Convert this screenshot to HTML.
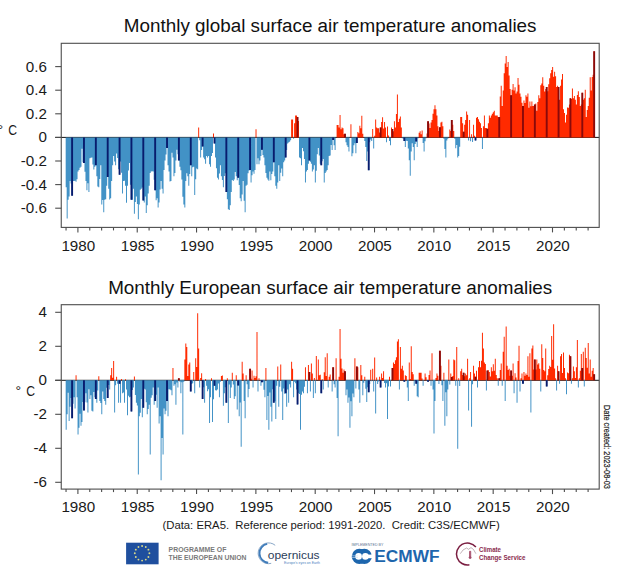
<!DOCTYPE html>
<html><head><meta charset="utf-8"><style>
html,body{margin:0;padding:0;background:#fff;}
body{width:640px;height:575px;overflow:hidden;position:relative;}
svg{position:absolute;left:0;top:0;}
text{font-family:"Liberation Sans", sans-serif;}
</style></head><body>
<svg width="640" height="575" viewBox="0 0 640 575">
<line x1="55.2" y1="137.4" x2="599.2" y2="137.4" stroke="#111" stroke-width="1"/>
<path fill="#4292c6" d="M65.68 137.40h0.9888v49.82h-0.9888zM66.67 137.40h0.9888v81.12h-0.9888zM67.66 137.40h0.9888v62.34h-0.9888zM68.65 137.40h0.9888v59.21h-0.9888zM69.64 137.40h0.9888v43.56h-0.9888zM70.62 137.40h0.9888v46.10h-0.9888zM71.61 137.40h0.9888v58.43h-0.9888zM72.60 137.40h0.9888v43.64h-0.9888zM73.59 137.40h0.9888v43.56h-0.9888zM74.58 137.40h0.9888v43.47h-0.9888zM75.57 137.40h0.9888v44.34h-0.9888zM76.56 137.40h0.9888v41.90h-0.9888zM77.55 137.40h0.9888v34.17h-0.9888zM78.53 137.40h0.9888v32.60h-0.9888zM79.52 137.40h0.9888v30.29h-0.9888zM80.51 137.40h0.9888v29.47h-0.9888zM81.50 137.40h0.9888v11.47h-0.9888zM82.49 137.40h0.9888v24.78h-0.9888zM83.48 137.40h0.9888v25.56h-0.9888zM84.47 137.40h0.9888v34.41h-0.9888zM85.46 137.40h0.9888v43.56h-0.9888zM86.44 137.40h0.9888v52.95h-0.9888zM87.43 137.40h0.9888v45.88h-0.9888zM88.42 137.40h0.9888v54.52h-0.9888zM89.41 137.40h0.9888v20.86h-0.9888zM90.40 137.40h0.9888v20.40h-0.9888zM91.39 137.40h0.9888v20.08h-0.9888zM92.38 137.40h0.9888v27.12h-0.9888zM93.37 137.40h0.9888v32.05h-0.9888zM94.35 137.40h0.9888v29.47h-0.9888zM95.34 137.40h0.9888v27.91h-0.9888zM96.33 137.40h0.9888v38.86h-0.9888zM97.32 137.40h0.9888v49.01h-0.9888zM98.31 137.40h0.9888v49.82h-0.9888zM99.30 137.40h0.9888v41.54h-0.9888zM100.29 137.40h0.9888v27.91h-0.9888zM101.28 137.40h0.9888v67.04h-0.9888zM102.26 137.40h0.9888v62.62h-0.9888zM103.25 137.40h0.9888v74.86h-0.9888zM104.24 137.40h0.9888v62.34h-0.9888zM105.23 137.40h0.9888v61.83h-0.9888zM106.22 137.40h0.9888v48.25h-0.9888zM107.21 137.40h0.9888v39.65h-0.9888zM108.20 137.40h0.9888v51.39h-0.9888zM109.19 137.40h0.9888v62.09h-0.9888zM110.17 137.40h0.9888v60.78h-0.9888zM111.16 137.40h0.9888v43.56h-0.9888zM112.15 137.40h0.9888v27.92h-0.9888zM113.14 137.40h0.9888v18.52h-0.9888zM114.13 137.40h0.9888v24.13h-0.9888zM115.12 137.40h0.9888v27.91h-0.9888zM116.11 137.40h0.9888v16.17h-0.9888zM117.09 137.40h0.9888v20.54h-0.9888zM118.08 137.40h0.9888v31.82h-0.9888zM119.07 137.40h0.9888v37.30h-0.9888zM120.06 137.40h0.9888v23.99h-0.9888zM121.05 137.40h0.9888v35.43h-0.9888zM122.04 137.40h0.9888v56.08h-0.9888zM123.03 137.40h0.9888v43.56h-0.9888zM124.02 137.40h0.9888v43.38h-0.9888zM125.01 137.40h0.9888v48.25h-0.9888zM125.99 137.40h0.9888v65.47h-0.9888zM126.98 137.40h0.9888v48.25h-0.9888zM127.97 137.40h0.9888v33.12h-0.9888zM128.96 137.40h0.9888v25.56h-0.9888zM129.95 137.40h0.9888v47.37h-0.9888zM130.94 137.40h0.9888v62.34h-0.9888zM131.93 137.40h0.9888v62.29h-0.9888zM132.92 137.40h0.9888v51.39h-0.9888zM133.90 137.40h0.9888v76.43h-0.9888zM134.89 137.40h0.9888v64.66h-0.9888zM135.88 137.40h0.9888v59.21h-0.9888zM136.87 137.40h0.9888v66.72h-0.9888zM137.86 137.40h0.9888v81.91h-0.9888zM138.85 137.40h0.9888v67.04h-0.9888zM139.84 137.40h0.9888v52.31h-0.9888zM140.82 137.40h0.9888v51.39h-0.9888zM141.81 137.40h0.9888v50.11h-0.9888zM142.80 137.40h0.9888v63.12h-0.9888zM143.79 137.40h0.9888v65.07h-0.9888zM144.78 137.40h0.9888v59.21h-0.9888zM145.77 137.40h0.9888v75.65h-0.9888zM146.76 137.40h0.9888v67.83h-0.9888zM147.75 137.40h0.9888v56.08h-0.9888zM148.74 137.40h0.9888v48.25h-0.9888zM149.72 137.40h0.9888v35.72h-0.9888zM150.71 137.40h0.9888v34.17h-0.9888zM151.70 137.40h0.9888v33.96h-0.9888zM152.69 137.40h0.9888v34.17h-0.9888zM153.68 137.40h0.9888v42.27h-0.9888zM154.67 137.40h0.9888v52.95h-0.9888zM155.66 137.40h0.9888v62.80h-0.9888zM156.65 137.40h0.9888v60.78h-0.9888zM157.63 137.40h0.9888v70.17h-0.9888zM158.62 137.40h0.9888v65.17h-0.9888zM159.61 137.40h0.9888v52.17h-0.9888zM160.60 137.40h0.9888v43.56h-0.9888zM161.59 137.40h0.9888v51.35h-0.9888zM162.58 137.40h0.9888v56.08h-0.9888zM163.57 137.40h0.9888v32.60h-0.9888zM164.56 137.40h0.9888v23.21h-0.9888zM165.54 137.40h0.9888v17.22h-0.9888zM166.53 137.40h0.9888v10.69h-0.9888zM167.52 137.40h0.9888v27.91h-0.9888zM168.51 137.40h0.9888v34.17h-0.9888zM169.50 137.40h0.9888v44.10h-0.9888zM170.49 137.40h0.9888v43.56h-0.9888zM171.48 137.40h0.9888v15.39h-0.9888zM172.47 137.40h0.9888v20.08h-0.9888zM173.45 137.40h0.9888v38.86h-0.9888zM174.44 137.40h0.9888v35.57h-0.9888zM175.43 137.40h0.9888v23.21h-0.9888zM176.42 137.40h0.9888v12.26h-0.9888zM177.41 137.40h0.9888v16.87h-0.9888zM178.40 137.40h0.9888v23.21h-0.9888zM179.39 137.40h0.9888v29.47h-0.9888zM180.38 137.40h0.9888v32.94h-0.9888zM181.36 137.40h0.9888v41.99h-0.9888zM182.35 137.40h0.9888v59.36h-0.9888zM183.34 137.40h0.9888v67.04h-0.9888zM184.33 137.40h0.9888v70.17h-0.9888zM185.32 137.40h0.9888v43.56h-0.9888zM186.31 137.40h0.9888v35.82h-0.9888zM187.30 137.40h0.9888v38.86h-0.9888zM188.29 137.40h0.9888v48.25h-0.9888zM189.27 137.40h0.9888v36.53h-0.9888zM190.26 137.40h0.9888v27.91h-0.9888zM191.25 137.40h0.9888v38.86h-0.9888zM192.24 137.40h0.9888v29.76h-0.9888zM193.23 137.40h0.9888v29.47h-0.9888zM194.22 137.40h0.9888v57.65h-0.9888zM195.21 137.40h0.9888v41.94h-0.9888zM196.20 137.40h0.9888v31.04h-0.9888zM197.18 137.40h0.9888v31.82h-0.9888zM199.16 137.40h0.9888v2.86h-0.9888zM200.15 137.40h0.9888v20.08h-0.9888zM201.14 137.40h0.9888v12.72h-0.9888zM202.13 137.40h0.9888v9.13h-0.9888zM203.12 137.40h0.9888v20.08h-0.9888zM204.11 137.40h0.9888v21.75h-0.9888zM205.09 137.40h0.9888v26.34h-0.9888zM206.08 137.40h0.9888v18.52h-0.9888zM207.07 137.40h0.9888v20.13h-0.9888zM208.06 137.40h0.9888v18.52h-0.9888zM209.05 137.40h0.9888v26.91h-0.9888zM210.04 137.40h0.9888v29.47h-0.9888zM211.03 137.40h0.9888v18.52h-0.9888zM212.02 137.40h0.9888v15.60h-0.9888zM213.99 137.40h0.9888v5.99h-0.9888zM214.98 137.40h0.9888v20.08h-0.9888zM215.97 137.40h0.9888v30.82h-0.9888zM216.96 137.40h0.9888v40.43h-0.9888zM217.95 137.40h0.9888v41.99h-0.9888zM218.94 137.40h0.9888v36.17h-0.9888zM219.93 137.40h0.9888v27.91h-0.9888zM220.91 137.40h0.9888v38.86h-0.9888zM221.90 137.40h0.9888v42.50h-0.9888zM222.89 137.40h0.9888v49.82h-0.9888zM223.88 137.40h0.9888v38.53h-0.9888zM224.87 137.40h0.9888v35.73h-0.9888zM225.86 137.40h0.9888v54.52h-0.9888zM226.85 137.40h0.9888v61.92h-0.9888zM227.84 137.40h0.9888v71.73h-0.9888zM228.82 137.40h0.9888v72.52h-0.9888zM229.81 137.40h0.9888v67.95h-0.9888zM230.80 137.40h0.9888v54.52h-0.9888zM231.79 137.40h0.9888v42.61h-0.9888zM232.78 137.40h0.9888v43.56h-0.9888zM233.77 137.40h0.9888v41.99h-0.9888zM234.76 137.40h0.9888v34.62h-0.9888zM235.75 137.40h0.9888v38.86h-0.9888zM236.73 137.40h0.9888v42.86h-0.9888zM237.72 137.40h0.9888v40.43h-0.9888zM238.71 137.40h0.9888v47.57h-0.9888zM239.70 137.40h0.9888v60.78h-0.9888zM240.69 137.40h0.9888v63.91h-0.9888zM241.68 137.40h0.9888v56.98h-0.9888zM242.67 137.40h0.9888v43.56h-0.9888zM243.66 137.40h0.9888v63.38h-0.9888zM244.64 137.40h0.9888v74.86h-0.9888zM245.63 137.40h0.9888v48.25h-0.9888zM246.62 137.40h0.9888v47.45h-0.9888zM247.61 137.40h0.9888v35.73h-0.9888zM248.60 137.40h0.9888v33.15h-0.9888zM249.59 137.40h0.9888v32.60h-0.9888zM250.58 137.40h0.9888v45.12h-0.9888zM251.56 137.40h0.9888v37.96h-0.9888zM252.55 137.40h0.9888v34.17h-0.9888zM253.54 137.40h0.9888v36.46h-0.9888zM254.53 137.40h0.9888v32.60h-0.9888zM256.51 137.40h0.9888v26.74h-0.9888zM257.50 137.40h0.9888v20.86h-0.9888zM258.49 137.40h0.9888v26.73h-0.9888zM259.48 137.40h0.9888v23.21h-0.9888zM260.46 137.40h0.9888v18.55h-0.9888zM261.45 137.40h0.9888v12.26h-0.9888zM262.44 137.40h0.9888v17.68h-0.9888zM263.43 137.40h0.9888v20.08h-0.9888zM264.42 137.40h0.9888v27.91h-0.9888zM265.41 137.40h0.9888v35.63h-0.9888zM266.40 137.40h0.9888v40.43h-0.9888zM267.38 137.40h0.9888v41.99h-0.9888zM268.37 137.40h0.9888v43.31h-0.9888zM269.36 137.40h0.9888v34.17h-0.9888zM270.35 137.40h0.9888v42.78h-0.9888zM271.34 137.40h0.9888v36.56h-0.9888zM272.33 137.40h0.9888v34.17h-0.9888zM273.32 137.40h0.9888v24.78h-0.9888zM274.31 137.40h0.9888v38.86h-0.9888zM275.30 137.40h0.9888v48.35h-0.9888zM276.28 137.40h0.9888v51.39h-0.9888zM277.27 137.40h0.9888v45.00h-0.9888zM278.26 137.40h0.9888v27.91h-0.9888zM279.25 137.40h0.9888v43.56h-0.9888zM280.24 137.40h0.9888v35.45h-0.9888zM281.23 137.40h0.9888v31.04h-0.9888zM282.22 137.40h0.9888v38.86h-0.9888zM283.21 137.40h0.9888v24.78h-0.9888zM284.19 137.40h0.9888v23.18h-0.9888zM285.18 137.40h0.9888v20.08h-0.9888zM286.17 137.40h0.9888v12.51h-0.9888zM287.16 137.40h0.9888v5.99h-0.9888zM288.15 137.40h0.9888v5.15h-0.9888zM289.14 137.40h0.9888v4.43h-0.9888zM290.13 137.40h0.9888v2.86h-0.9888zM293.09 137.40h0.9888v1.30h-0.9888zM299.02 137.40h0.9888v20.08h-0.9888zM300.01 137.40h0.9888v20.94h-0.9888zM301.00 137.40h0.9888v27.91h-0.9888zM301.99 137.40h0.9888v10.69h-0.9888zM302.98 137.40h0.9888v13.84h-0.9888zM303.97 137.40h0.9888v21.65h-0.9888zM304.96 137.40h0.9888v45.12h-0.9888zM305.95 137.40h0.9888v34.17h-0.9888zM306.94 137.40h0.9888v32.61h-0.9888zM307.92 137.40h0.9888v26.34h-0.9888zM308.91 137.40h0.9888v23.21h-0.9888zM309.90 137.40h0.9888v24.43h-0.9888zM310.89 137.40h0.9888v26.34h-0.9888zM311.88 137.40h0.9888v34.17h-0.9888zM312.87 137.40h0.9888v32.18h-0.9888zM313.86 137.40h0.9888v27.91h-0.9888zM314.85 137.40h0.9888v45.12h-0.9888zM315.83 137.40h0.9888v33.27h-0.9888zM316.82 137.40h0.9888v16.95h-0.9888zM317.81 137.40h0.9888v10.69h-0.9888zM318.80 137.40h0.9888v18.06h-0.9888zM319.79 137.40h0.9888v26.34h-0.9888zM320.78 137.40h0.9888v27.91h-0.9888zM321.77 137.40h0.9888v23.79h-0.9888zM322.75 137.40h0.9888v21.65h-0.9888zM323.74 137.40h0.9888v45.12h-0.9888zM324.73 137.40h0.9888v35.71h-0.9888zM325.72 137.40h0.9888v34.17h-0.9888zM326.71 137.40h0.9888v32.60h-0.9888zM327.70 137.40h0.9888v27.81h-0.9888zM328.69 137.40h0.9888v18.52h-0.9888zM329.68 137.40h0.9888v18.12h-0.9888zM330.67 137.40h0.9888v7.70h-0.9888zM331.65 137.40h0.9888v12.66h-0.9888zM332.64 137.40h0.9888v2.50h-0.9888zM333.63 137.40h0.9888v7.97h-0.9888zM334.62 137.40h0.9888v12.66h-0.9888zM335.61 137.40h0.9888v0.08h-0.9888zM345.50 137.40h0.9888v4.84h-0.9888zM346.49 137.40h0.9888v7.97h-0.9888zM347.47 137.40h0.9888v9.53h-0.9888zM348.46 137.40h0.9888v14.22h-0.9888zM349.45 137.40h0.9888v0.27h-0.9888zM351.43 137.40h0.9888v18.91h-0.9888zM352.42 137.40h0.9888v15.78h-0.9888zM353.41 137.40h0.9888v7.97h-0.9888zM354.40 137.40h0.9888v5.94h-0.9888zM355.38 137.40h0.9888v15.78h-0.9888zM356.37 137.40h0.9888v5.62h-0.9888zM364.28 137.40h0.9888v3.59h-0.9888zM365.27 137.40h0.9888v9.53h-0.9888zM366.26 137.40h0.9888v23.59h-0.9888zM367.25 137.40h0.9888v14.14h-0.9888zM368.24 137.40h0.9888v32.97h-0.9888zM369.23 137.40h0.9888v4.84h-0.9888zM370.22 137.40h0.9888v2.11h-0.9888zM371.20 137.40h0.9888v3.59h-0.9888zM373.18 137.40h0.9888v11.09h-0.9888zM386.04 137.40h0.9888v4.84h-0.9888zM389.00 137.40h0.9888v3.59h-0.9888zM389.99 137.40h0.9888v7.97h-0.9888zM401.86 137.40h0.9888v0.94h-0.9888zM402.84 137.40h0.9888v1.13h-0.9888zM403.83 137.40h0.9888v3.59h-0.9888zM404.82 137.40h0.9888v9.53h-0.9888zM405.81 137.40h0.9888v3.28h-0.9888zM406.80 137.40h0.9888v3.59h-0.9888zM407.79 137.40h0.9888v11.09h-0.9888zM408.78 137.40h0.9888v22.81h-0.9888zM409.76 137.40h0.9888v38.44h-0.9888zM410.75 137.40h0.9888v14.22h-0.9888zM411.74 137.40h0.9888v5.94h-0.9888zM412.73 137.40h0.9888v9.53h-0.9888zM413.72 137.40h0.9888v22.81h-0.9888zM414.71 137.40h0.9888v6.72h-0.9888zM415.70 137.40h0.9888v4.06h-0.9888zM416.69 137.40h0.9888v9.53h-0.9888zM417.68 137.40h0.9888v0.94h-0.9888zM422.62 137.40h0.9888v5.62h-0.9888zM423.61 137.40h0.9888v14.22h-0.9888zM424.60 137.40h0.9888v3.79h-0.9888zM425.59 137.40h0.9888v0.94h-0.9888zM443.38 137.40h0.9888v1.47h-0.9888zM444.37 137.40h0.9888v11.62h-0.9888zM445.36 137.40h0.9888v20.22h-0.9888zM446.35 137.40h0.9888v3.03h-0.9888zM447.34 137.40h0.9888v1.47h-0.9888zM454.26 137.40h0.9888v1.47h-0.9888zM455.25 137.40h0.9888v10.84h-0.9888zM456.24 137.40h0.9888v7.72h-0.9888zM457.23 137.40h0.9888v20.22h-0.9888zM458.21 137.40h0.9888v18.66h-0.9888zM459.20 137.40h0.9888v9.28h-0.9888zM468.10 137.40h0.9888v3.03h-0.9888zM470.08 137.40h0.9888v3.81h-0.9888zM472.06 137.40h0.9888v4.59h-0.9888zM475.02 137.40h0.9888v3.03h-0.9888zM481.94 137.40h0.9888v11.62h-0.9888z"/>
<path fill="#ff2a00" d="M198.17 127.49h0.9888v9.91h-0.9888zM213.00 133.51h0.9888v3.89h-0.9888zM255.52 129.14h0.9888v8.26h-0.9888zM291.12 119.40h0.9888v18.00h-0.9888zM292.10 119.40h0.9888v18.00h-0.9888zM294.08 123.31h0.9888v14.09h-0.9888zM295.07 115.49h0.9888v21.91h-0.9888zM296.06 115.49h0.9888v21.91h-0.9888zM297.05 117.05h0.9888v20.35h-0.9888zM298.04 120.97h0.9888v16.43h-0.9888zM336.60 125.06h0.9888v12.34h-0.9888zM337.59 125.06h0.9888v12.34h-0.9888zM338.57 127.40h0.9888v10.00h-0.9888zM339.56 114.90h0.9888v22.50h-0.9888zM340.55 129.28h0.9888v8.12h-0.9888zM341.54 127.40h0.9888v10.00h-0.9888zM342.53 128.18h0.9888v9.22h-0.9888zM343.52 134.16h0.9888v3.24h-0.9888zM344.51 133.65h0.9888v3.75h-0.9888zM350.44 124.28h0.9888v13.12h-0.9888zM357.36 132.09h0.9888v5.31h-0.9888zM358.35 133.18h0.9888v4.22h-0.9888zM359.34 125.84h0.9888v11.56h-0.9888zM360.33 128.18h0.9888v9.22h-0.9888zM361.32 115.68h0.9888v21.72h-0.9888zM362.31 133.65h0.9888v3.75h-0.9888zM363.29 137.36h0.9888v0.04h-0.9888zM372.19 128.96h0.9888v8.44h-0.9888zM374.17 135.72h0.9888v1.68h-0.9888zM375.16 119.59h0.9888v17.81h-0.9888zM376.15 127.40h0.9888v10.00h-0.9888zM377.14 128.18h0.9888v9.22h-0.9888zM378.12 128.18h0.9888v9.22h-0.9888zM379.11 132.60h0.9888v4.80h-0.9888zM380.10 127.40h0.9888v10.00h-0.9888zM381.09 121.93h0.9888v15.47h-0.9888zM382.08 117.24h0.9888v20.16h-0.9888zM383.07 128.49h0.9888v8.91h-0.9888zM384.06 121.93h0.9888v15.47h-0.9888zM385.05 127.40h0.9888v10.00h-0.9888zM387.02 126.62h0.9888v10.78h-0.9888zM388.01 135.60h0.9888v1.80h-0.9888zM390.98 127.40h0.9888v10.00h-0.9888zM391.97 128.96h0.9888v8.44h-0.9888zM392.96 131.23h0.9888v6.17h-0.9888zM393.94 121.15h0.9888v16.25h-0.9888zM394.93 127.40h0.9888v10.00h-0.9888zM395.92 114.12h0.9888v23.28h-0.9888zM396.91 94.59h0.9888v42.81h-0.9888zM397.90 122.05h0.9888v15.35h-0.9888zM398.89 118.81h0.9888v18.59h-0.9888zM399.88 116.46h0.9888v20.94h-0.9888zM400.87 127.40h0.9888v10.00h-0.9888zM418.66 132.87h0.9888v4.53h-0.9888zM419.65 131.31h0.9888v6.09h-0.9888zM420.64 134.16h0.9888v3.24h-0.9888zM421.63 130.53h0.9888v6.88h-0.9888zM426.57 133.57h0.9888v3.83h-0.9888zM427.56 121.15h0.9888v16.25h-0.9888zM428.55 123.49h0.9888v13.91h-0.9888zM429.54 127.93h0.9888v9.47h-0.9888zM430.53 122.46h0.9888v14.94h-0.9888zM431.52 120.12h0.9888v17.28h-0.9888zM432.51 113.87h0.9888v23.53h-0.9888zM433.50 109.18h0.9888v28.22h-0.9888zM434.48 105.28h0.9888v32.12h-0.9888zM435.47 109.18h0.9888v28.22h-0.9888zM436.46 115.43h0.9888v21.97h-0.9888zM437.45 126.37h0.9888v11.03h-0.9888zM438.44 131.06h0.9888v6.34h-0.9888zM439.43 127.15h0.9888v10.25h-0.9888zM440.42 122.46h0.9888v14.94h-0.9888zM441.41 121.68h0.9888v15.72h-0.9888zM442.39 126.37h0.9888v11.03h-0.9888zM448.33 137.31h0.9888v0.09h-0.9888zM449.31 129.49h0.9888v7.91h-0.9888zM450.30 131.10h0.9888v6.30h-0.9888zM451.29 120.12h0.9888v17.28h-0.9888zM452.28 124.81h0.9888v12.59h-0.9888zM453.27 131.06h0.9888v6.34h-0.9888zM460.19 116.99h0.9888v20.41h-0.9888zM461.18 116.99h0.9888v20.41h-0.9888zM462.17 123.24h0.9888v14.16h-0.9888zM463.16 131.84h0.9888v5.56h-0.9888zM464.15 124.81h0.9888v12.59h-0.9888zM465.13 120.12h0.9888v17.28h-0.9888zM466.12 111.53h0.9888v25.88h-0.9888zM467.11 114.65h0.9888v22.75h-0.9888zM469.09 120.12h0.9888v17.28h-0.9888zM471.07 134.18h0.9888v3.22h-0.9888zM473.05 124.81h0.9888v12.59h-0.9888zM474.03 135.74h0.9888v1.66h-0.9888zM476.01 117.78h0.9888v19.63h-0.9888zM477.00 116.99h0.9888v20.41h-0.9888zM477.99 119.34h0.9888v18.06h-0.9888zM478.98 121.68h0.9888v15.72h-0.9888zM479.97 123.24h0.9888v14.16h-0.9888zM480.96 127.93h0.9888v9.47h-0.9888zM482.93 126.37h0.9888v11.03h-0.9888zM483.92 115.43h0.9888v21.97h-0.9888zM484.91 127.93h0.9888v9.47h-0.9888zM485.90 127.93h0.9888v9.47h-0.9888zM486.89 128.71h0.9888v8.69h-0.9888zM487.88 123.24h0.9888v14.16h-0.9888zM488.87 115.43h0.9888v21.97h-0.9888zM489.85 117.78h0.9888v19.63h-0.9888zM490.84 115.43h0.9888v21.97h-0.9888zM491.83 113.87h0.9888v23.53h-0.9888zM492.82 112.31h0.9888v25.09h-0.9888zM493.81 110.74h0.9888v26.66h-0.9888zM494.80 115.43h0.9888v21.97h-0.9888zM495.79 115.43h0.9888v21.97h-0.9888zM496.78 115.43h0.9888v21.97h-0.9888zM497.76 116.99h0.9888v20.41h-0.9888zM498.75 116.99h0.9888v20.41h-0.9888zM499.74 96.52h0.9888v40.88h-0.9888zM500.73 85.75h0.9888v51.65h-0.9888zM501.72 106.10h0.9888v31.30h-0.9888zM502.71 90.41h0.9888v46.99h-0.9888zM503.70 73.23h0.9888v64.17h-0.9888zM504.69 63.51h0.9888v73.89h-0.9888zM505.67 56.01h0.9888v81.39h-0.9888zM506.66 66.97h0.9888v70.43h-0.9888zM507.65 61.92h0.9888v75.48h-0.9888zM508.64 75.57h0.9888v61.83h-0.9888zM509.63 88.88h0.9888v48.52h-0.9888zM510.62 95.14h0.9888v42.26h-0.9888zM511.61 89.66h0.9888v47.74h-0.9888zM512.60 83.91h0.9888v53.49h-0.9888zM513.58 90.44h0.9888v46.96h-0.9888zM514.57 87.37h0.9888v50.03h-0.9888zM515.56 93.57h0.9888v43.83h-0.9888zM516.55 91.53h0.9888v45.87h-0.9888zM517.54 77.92h0.9888v59.48h-0.9888zM518.53 84.87h0.9888v52.53h-0.9888zM519.52 93.57h0.9888v43.83h-0.9888zM520.50 96.70h0.9888v40.70h-0.9888zM521.49 102.84h0.9888v34.56h-0.9888zM522.48 106.10h0.9888v31.30h-0.9888zM523.47 100.47h0.9888v36.93h-0.9888zM524.46 102.97h0.9888v34.43h-0.9888zM525.45 95.14h0.9888v42.26h-0.9888zM526.44 96.76h0.9888v40.64h-0.9888zM527.43 93.57h0.9888v43.83h-0.9888zM528.41 107.66h0.9888v29.74h-0.9888zM529.40 101.46h0.9888v35.94h-0.9888zM530.39 106.15h0.9888v31.25h-0.9888zM531.38 101.40h0.9888v36.00h-0.9888zM532.37 106.10h0.9888v31.30h-0.9888zM533.36 106.08h0.9888v31.32h-0.9888zM534.35 104.53h0.9888v32.87h-0.9888zM535.34 103.56h0.9888v33.84h-0.9888zM536.33 110.79h0.9888v26.61h-0.9888zM537.31 101.98h0.9888v35.42h-0.9888zM538.30 95.14h0.9888v42.26h-0.9888zM539.29 98.27h0.9888v39.13h-0.9888zM540.28 85.24h0.9888v52.16h-0.9888zM541.27 83.56h0.9888v53.84h-0.9888zM542.26 77.14h0.9888v60.26h-0.9888zM543.25 85.75h0.9888v51.65h-0.9888zM544.24 91.40h0.9888v46.00h-0.9888zM545.22 88.88h0.9888v48.52h-0.9888zM546.21 87.03h0.9888v50.37h-0.9888zM547.20 91.23h0.9888v46.17h-0.9888zM548.19 84.18h0.9888v53.22h-0.9888zM549.18 78.33h0.9888v59.07h-0.9888zM550.17 73.23h0.9888v64.17h-0.9888zM551.16 69.99h0.9888v67.41h-0.9888zM552.14 66.97h0.9888v70.43h-0.9888zM553.13 76.74h0.9888v60.66h-0.9888zM554.12 71.66h0.9888v65.74h-0.9888zM555.11 76.36h0.9888v61.04h-0.9888zM556.10 87.06h0.9888v50.34h-0.9888zM557.09 85.75h0.9888v51.65h-0.9888zM558.08 87.04h0.9888v50.36h-0.9888zM559.07 99.84h0.9888v37.56h-0.9888zM560.06 85.75h0.9888v51.65h-0.9888zM561.04 79.49h0.9888v57.91h-0.9888zM562.03 74.01h0.9888v63.39h-0.9888zM563.02 109.23h0.9888v28.17h-0.9888zM564.01 112.93h0.9888v24.47h-0.9888zM565.00 122.53h0.9888v14.87h-0.9888zM565.99 114.70h0.9888v22.70h-0.9888zM566.98 107.52h0.9888v29.88h-0.9888zM567.97 107.66h0.9888v29.74h-0.9888zM568.95 104.43h0.9888v32.97h-0.9888zM569.94 98.27h0.9888v39.13h-0.9888zM570.93 99.05h0.9888v38.35h-0.9888zM571.92 88.49h0.9888v48.91h-0.9888zM572.91 98.36h0.9888v39.04h-0.9888zM573.90 95.92h0.9888v41.48h-0.9888zM574.89 99.63h0.9888v37.77h-0.9888zM575.88 104.53h0.9888v32.87h-0.9888zM576.86 95.08h0.9888v42.32h-0.9888zM577.85 91.23h0.9888v46.17h-0.9888zM578.84 96.94h0.9888v40.46h-0.9888zM579.83 106.10h0.9888v31.30h-0.9888zM580.82 104.53h0.9888v32.87h-0.9888zM581.81 92.79h0.9888v44.61h-0.9888zM582.80 99.84h0.9888v37.56h-0.9888zM583.79 98.17h0.9888v39.23h-0.9888zM584.77 89.66h0.9888v47.74h-0.9888zM585.76 117.05h0.9888v20.35h-0.9888zM586.75 109.98h0.9888v27.42h-0.9888zM587.74 106.10h0.9888v31.30h-0.9888zM588.73 97.73h0.9888v39.67h-0.9888zM589.72 77.14h0.9888v60.26h-0.9888zM590.71 90.44h0.9888v46.96h-0.9888zM591.69 76.92h0.9888v60.48h-0.9888zM592.68 74.79h0.9888v62.61h-0.9888zM593.67 51.31h0.9888v86.09h-0.9888z"/>
<path fill="#081c6e" d="M71.16 137.40h1.900v58.43h-1.900zM83.02 137.40h1.900v25.56h-1.900zM94.89 137.40h1.900v27.91h-1.900zM106.75 137.40h1.900v39.65h-1.900zM118.62 137.40h1.900v37.30h-1.900zM130.48 137.40h1.900v62.34h-1.900zM142.35 137.40h1.900v63.12h-1.900zM154.21 137.40h1.900v52.95h-1.900zM166.08 137.40h1.900v10.69h-1.900zM177.94 137.40h1.900v23.21h-1.900zM189.81 137.40h1.900v27.91h-1.900zM201.67 137.40h1.900v9.13h-1.900zM213.54 137.40h1.900v5.99h-1.900zM225.40 137.40h1.900v54.52h-1.900zM237.27 137.40h1.900v40.43h-1.900zM249.13 137.40h1.900v32.60h-1.900zM261.00 137.40h1.900v12.26h-1.900zM272.86 137.40h1.900v24.78h-1.900zM284.73 137.40h1.900v20.08h-1.900zM308.46 137.40h1.900v23.21h-1.900zM320.32 137.40h1.900v27.91h-1.900zM332.19 137.40h1.900v2.50h-1.900zM355.92 137.40h1.900v5.62h-1.900zM367.78 137.40h1.900v32.97h-1.900zM403.38 137.40h1.900v3.59h-1.900zM415.24 137.40h1.900v4.06h-1.900zM474.57 137.40h1.900v3.03h-1.900z"/>
<path fill="#8a0a0a" d="M296.59 117.05h1.900v20.35h-1.900zM344.05 133.65h1.900v3.75h-1.900zM379.65 127.40h1.900v10.00h-1.900zM391.51 128.96h1.900v8.44h-1.900zM427.11 121.15h1.900v16.25h-1.900zM438.97 127.15h1.900v10.25h-1.900zM450.84 120.12h1.900v17.28h-1.900zM462.70 131.84h1.900v5.56h-1.900zM486.43 128.71h1.900v8.69h-1.900zM498.30 116.99h1.900v20.41h-1.900zM510.16 95.14h1.900v42.26h-1.900zM522.03 106.10h1.900v31.30h-1.900zM533.89 104.53h1.900v32.87h-1.900zM545.76 87.03h1.900v50.37h-1.900zM557.62 87.04h1.900v50.36h-1.900zM569.49 98.27h1.900v39.13h-1.900zM581.35 92.79h1.900v44.61h-1.900zM593.22 51.31h1.900v86.09h-1.900z"/>
<rect x="61.25" y="43.3" width="537.95" height="184.10000000000002" fill="none" stroke="#4d4d4d" stroke-width="1.1"/>
<line x1="55.2" y1="66.60" x2="61.25" y2="66.60" stroke="#4d4d4d" stroke-width="1.1"/>
<text transform="translate(46.9,71.50) scale(1.085,1)" text-anchor="end" font-size="14" fill="#1a1a1a">0.6</text>
<line x1="55.2" y1="90.20" x2="61.25" y2="90.20" stroke="#4d4d4d" stroke-width="1.1"/>
<text transform="translate(46.9,95.10) scale(1.085,1)" text-anchor="end" font-size="14" fill="#1a1a1a">0.4</text>
<line x1="55.2" y1="113.80" x2="61.25" y2="113.80" stroke="#4d4d4d" stroke-width="1.1"/>
<text transform="translate(46.9,118.70) scale(1.085,1)" text-anchor="end" font-size="14" fill="#1a1a1a">0.2</text>
<line x1="55.2" y1="137.40" x2="61.25" y2="137.40" stroke="#4d4d4d" stroke-width="1.1"/>
<text transform="translate(46.9,142.30) scale(1.085,1)" text-anchor="end" font-size="14" fill="#1a1a1a">0</text>
<line x1="55.2" y1="161.00" x2="61.25" y2="161.00" stroke="#4d4d4d" stroke-width="1.1"/>
<text transform="translate(46.9,165.90) scale(1.085,1)" text-anchor="end" font-size="14" fill="#1a1a1a">-0.2</text>
<line x1="55.2" y1="184.60" x2="61.25" y2="184.60" stroke="#4d4d4d" stroke-width="1.1"/>
<text transform="translate(46.9,189.50) scale(1.085,1)" text-anchor="end" font-size="14" fill="#1a1a1a">-0.4</text>
<line x1="55.2" y1="208.20" x2="61.25" y2="208.20" stroke="#4d4d4d" stroke-width="1.1"/>
<text transform="translate(46.9,213.10) scale(1.085,1)" text-anchor="end" font-size="14" fill="#1a1a1a">-0.6</text>
<line x1="66.04" y1="227.4" x2="66.04" y2="230.4" stroke="#4d4d4d" stroke-width="1.1"/>
<line x1="77.90" y1="227.4" x2="77.90" y2="232.4" stroke="#4d4d4d" stroke-width="1.1"/>
<text transform="translate(78.30,250.6) scale(1.085,1)" text-anchor="middle" font-size="14" fill="#1a1a1a">1980</text>
<line x1="89.77" y1="227.4" x2="89.77" y2="230.4" stroke="#4d4d4d" stroke-width="1.1"/>
<line x1="101.63" y1="227.4" x2="101.63" y2="230.4" stroke="#4d4d4d" stroke-width="1.1"/>
<line x1="113.50" y1="227.4" x2="113.50" y2="230.4" stroke="#4d4d4d" stroke-width="1.1"/>
<line x1="125.36" y1="227.4" x2="125.36" y2="230.4" stroke="#4d4d4d" stroke-width="1.1"/>
<line x1="137.23" y1="227.4" x2="137.23" y2="232.4" stroke="#4d4d4d" stroke-width="1.1"/>
<text transform="translate(137.63,250.6) scale(1.085,1)" text-anchor="middle" font-size="14" fill="#1a1a1a">1985</text>
<line x1="149.09" y1="227.4" x2="149.09" y2="230.4" stroke="#4d4d4d" stroke-width="1.1"/>
<line x1="160.96" y1="227.4" x2="160.96" y2="230.4" stroke="#4d4d4d" stroke-width="1.1"/>
<line x1="172.82" y1="227.4" x2="172.82" y2="230.4" stroke="#4d4d4d" stroke-width="1.1"/>
<line x1="184.69" y1="227.4" x2="184.69" y2="230.4" stroke="#4d4d4d" stroke-width="1.1"/>
<line x1="196.55" y1="227.4" x2="196.55" y2="232.4" stroke="#4d4d4d" stroke-width="1.1"/>
<text transform="translate(196.95,250.6) scale(1.085,1)" text-anchor="middle" font-size="14" fill="#1a1a1a">1990</text>
<line x1="208.42" y1="227.4" x2="208.42" y2="230.4" stroke="#4d4d4d" stroke-width="1.1"/>
<line x1="220.28" y1="227.4" x2="220.28" y2="230.4" stroke="#4d4d4d" stroke-width="1.1"/>
<line x1="232.15" y1="227.4" x2="232.15" y2="230.4" stroke="#4d4d4d" stroke-width="1.1"/>
<line x1="244.01" y1="227.4" x2="244.01" y2="230.4" stroke="#4d4d4d" stroke-width="1.1"/>
<line x1="255.88" y1="227.4" x2="255.88" y2="232.4" stroke="#4d4d4d" stroke-width="1.1"/>
<text transform="translate(256.27,250.6) scale(1.085,1)" text-anchor="middle" font-size="14" fill="#1a1a1a">1995</text>
<line x1="267.74" y1="227.4" x2="267.74" y2="230.4" stroke="#4d4d4d" stroke-width="1.1"/>
<line x1="279.61" y1="227.4" x2="279.61" y2="230.4" stroke="#4d4d4d" stroke-width="1.1"/>
<line x1="291.47" y1="227.4" x2="291.47" y2="230.4" stroke="#4d4d4d" stroke-width="1.1"/>
<line x1="303.34" y1="227.4" x2="303.34" y2="230.4" stroke="#4d4d4d" stroke-width="1.1"/>
<line x1="315.20" y1="227.4" x2="315.20" y2="232.4" stroke="#4d4d4d" stroke-width="1.1"/>
<text transform="translate(315.60,250.6) scale(1.085,1)" text-anchor="middle" font-size="14" fill="#1a1a1a">2000</text>
<line x1="327.06" y1="227.4" x2="327.06" y2="230.4" stroke="#4d4d4d" stroke-width="1.1"/>
<line x1="338.93" y1="227.4" x2="338.93" y2="230.4" stroke="#4d4d4d" stroke-width="1.1"/>
<line x1="350.79" y1="227.4" x2="350.79" y2="230.4" stroke="#4d4d4d" stroke-width="1.1"/>
<line x1="362.66" y1="227.4" x2="362.66" y2="230.4" stroke="#4d4d4d" stroke-width="1.1"/>
<line x1="374.52" y1="227.4" x2="374.52" y2="232.4" stroke="#4d4d4d" stroke-width="1.1"/>
<text transform="translate(374.92,250.6) scale(1.085,1)" text-anchor="middle" font-size="14" fill="#1a1a1a">2005</text>
<line x1="386.39" y1="227.4" x2="386.39" y2="230.4" stroke="#4d4d4d" stroke-width="1.1"/>
<line x1="398.25" y1="227.4" x2="398.25" y2="230.4" stroke="#4d4d4d" stroke-width="1.1"/>
<line x1="410.12" y1="227.4" x2="410.12" y2="230.4" stroke="#4d4d4d" stroke-width="1.1"/>
<line x1="421.99" y1="227.4" x2="421.99" y2="230.4" stroke="#4d4d4d" stroke-width="1.1"/>
<line x1="433.85" y1="227.4" x2="433.85" y2="232.4" stroke="#4d4d4d" stroke-width="1.1"/>
<text transform="translate(434.25,250.6) scale(1.085,1)" text-anchor="middle" font-size="14" fill="#1a1a1a">2010</text>
<line x1="445.72" y1="227.4" x2="445.72" y2="230.4" stroke="#4d4d4d" stroke-width="1.1"/>
<line x1="457.58" y1="227.4" x2="457.58" y2="230.4" stroke="#4d4d4d" stroke-width="1.1"/>
<line x1="469.45" y1="227.4" x2="469.45" y2="230.4" stroke="#4d4d4d" stroke-width="1.1"/>
<line x1="481.31" y1="227.4" x2="481.31" y2="230.4" stroke="#4d4d4d" stroke-width="1.1"/>
<line x1="493.18" y1="227.4" x2="493.18" y2="232.4" stroke="#4d4d4d" stroke-width="1.1"/>
<text transform="translate(493.58,250.6) scale(1.085,1)" text-anchor="middle" font-size="14" fill="#1a1a1a">2015</text>
<line x1="505.04" y1="227.4" x2="505.04" y2="230.4" stroke="#4d4d4d" stroke-width="1.1"/>
<line x1="516.90" y1="227.4" x2="516.90" y2="230.4" stroke="#4d4d4d" stroke-width="1.1"/>
<line x1="528.77" y1="227.4" x2="528.77" y2="230.4" stroke="#4d4d4d" stroke-width="1.1"/>
<line x1="540.63" y1="227.4" x2="540.63" y2="230.4" stroke="#4d4d4d" stroke-width="1.1"/>
<line x1="552.50" y1="227.4" x2="552.50" y2="232.4" stroke="#4d4d4d" stroke-width="1.1"/>
<text transform="translate(552.90,250.6) scale(1.085,1)" text-anchor="middle" font-size="14" fill="#1a1a1a">2020</text>
<line x1="564.37" y1="227.4" x2="564.37" y2="230.4" stroke="#4d4d4d" stroke-width="1.1"/>
<line x1="576.23" y1="227.4" x2="576.23" y2="230.4" stroke="#4d4d4d" stroke-width="1.1"/>
<line x1="588.10" y1="227.4" x2="588.10" y2="230.4" stroke="#4d4d4d" stroke-width="1.1"/>
<text x="330.2" y="31.9" text-anchor="middle" font-size="18.85" fill="#111">Monthly global surface air temperature anomalies</text>
<text x="-2.5" y="134.9" font-size="14" fill="#1a1a1a">°</text><text transform="translate(8.3,134.9) scale(0.87,1)" font-size="14" fill="#1a1a1a">C</text>
<line x1="55.2" y1="380.3" x2="599.2" y2="380.3" stroke="#111" stroke-width="1"/>
<path fill="#4292c6" d="M65.68 380.30h0.9888v49.34h-0.9888zM66.67 380.30h0.9888v34.04h-0.9888zM67.66 380.30h0.9888v12.35h-0.9888zM68.65 380.30h0.9888v40.73h-0.9888zM69.64 380.30h0.9888v26.39h-0.9888zM70.62 380.30h0.9888v17.77h-0.9888zM71.61 380.30h0.9888v37.86h-0.9888zM72.60 380.30h0.9888v23.39h-0.9888zM73.59 380.30h0.9888v16.83h-0.9888zM74.58 380.30h0.9888v28.30h-0.9888zM76.56 380.30h0.9888v16.83h-0.9888zM77.55 380.30h0.9888v54.12h-0.9888zM78.53 380.30h0.9888v47.42h-0.9888zM79.52 380.30h0.9888v33.57h-0.9888zM80.51 380.30h0.9888v45.51h-0.9888zM81.50 380.30h0.9888v41.69h-0.9888zM82.49 380.30h0.9888v21.74h-0.9888zM83.48 380.30h0.9888v30.21h-0.9888zM84.47 380.30h0.9888v21.95h-0.9888zM85.46 380.30h0.9888v13.00h-0.9888zM86.44 380.30h0.9888v22.09h-0.9888zM87.43 380.30h0.9888v32.13h-0.9888zM88.42 380.30h0.9888v8.96h-0.9888zM89.41 380.30h0.9888v18.74h-0.9888zM90.40 380.30h0.9888v15.00h-0.9888zM91.39 380.30h0.9888v30.43h-0.9888zM92.38 380.30h0.9888v31.17h-0.9888zM93.37 380.30h0.9888v11.67h-0.9888zM94.35 380.30h0.9888v16.83h-0.9888zM95.34 380.30h0.9888v18.74h-0.9888zM96.33 380.30h0.9888v22.56h-0.9888zM97.32 380.30h0.9888v10.09h-0.9888zM99.30 380.30h0.9888v20.65h-0.9888zM100.29 380.30h0.9888v22.71h-0.9888zM101.28 380.30h0.9888v34.04h-0.9888zM102.26 380.30h0.9888v11.27h-0.9888zM103.25 380.30h0.9888v18.74h-0.9888zM104.24 380.30h0.9888v20.69h-0.9888zM105.23 380.30h0.9888v24.48h-0.9888zM106.22 380.30h0.9888v7.53h-0.9888zM107.21 380.30h0.9888v17.78h-0.9888zM108.20 380.30h0.9888v4.77h-0.9888zM109.19 380.30h0.9888v9.18h-0.9888zM114.13 380.30h0.9888v32.13h-0.9888zM115.12 380.30h0.9888v4.99h-0.9888zM117.09 380.30h0.9888v3.44h-0.9888zM118.08 380.30h0.9888v22.56h-0.9888zM119.07 380.30h0.9888v3.44h-0.9888zM120.06 380.30h0.9888v22.56h-0.9888zM122.04 380.30h0.9888v13.00h-0.9888zM123.03 380.30h0.9888v12.09h-0.9888zM124.02 380.30h0.9888v22.56h-0.9888zM125.99 380.30h0.9888v9.18h-0.9888zM126.98 380.30h0.9888v34.99h-0.9888zM127.97 380.30h0.9888v15.39h-0.9888zM128.96 380.30h0.9888v16.83h-0.9888zM129.95 380.30h0.9888v16.40h-0.9888zM130.94 380.30h0.9888v31.17h-0.9888zM131.93 380.30h0.9888v9.64h-0.9888zM132.92 380.30h0.9888v7.09h-0.9888zM134.89 380.30h0.9888v14.67h-0.9888zM135.88 380.30h0.9888v22.56h-0.9888zM136.87 380.30h0.9888v25.13h-0.9888zM137.86 380.30h0.9888v94.27h-0.9888zM138.85 380.30h0.9888v35.95h-0.9888zM139.84 380.30h0.9888v32.49h-0.9888zM140.82 380.30h0.9888v18.74h-0.9888zM141.81 380.30h0.9888v37.03h-0.9888zM142.80 380.30h0.9888v27.35h-0.9888zM143.79 380.30h0.9888v8.48h-0.9888zM144.78 380.30h0.9888v9.18h-0.9888zM145.77 380.30h0.9888v21.90h-0.9888zM146.76 380.30h0.9888v34.04h-0.9888zM147.75 380.30h0.9888v28.65h-0.9888zM148.74 380.30h0.9888v24.48h-0.9888zM149.72 380.30h0.9888v74.20h-0.9888zM150.71 380.30h0.9888v17.45h-0.9888zM151.70 380.30h0.9888v14.92h-0.9888zM152.69 380.30h0.9888v7.27h-0.9888zM153.68 380.30h0.9888v24.38h-0.9888zM154.67 380.30h0.9888v20.65h-0.9888zM155.66 380.30h0.9888v14.40h-0.9888zM156.65 380.30h0.9888v27.35h-0.9888zM157.63 380.30h0.9888v7.27h-0.9888zM158.62 380.30h0.9888v43.16h-0.9888zM159.61 380.30h0.9888v35.95h-0.9888zM160.60 380.30h0.9888v100.01h-0.9888zM161.59 380.30h0.9888v57.81h-0.9888zM162.58 380.30h0.9888v74.20h-0.9888zM163.57 380.30h0.9888v28.30h-0.9888zM164.56 380.30h0.9888v34.07h-0.9888zM165.54 380.30h0.9888v30.41h-0.9888zM166.53 380.30h0.9888v20.65h-0.9888zM167.52 380.30h0.9888v35.95h-0.9888zM168.51 380.30h0.9888v9.03h-0.9888zM169.50 380.30h0.9888v9.18h-0.9888zM170.49 380.30h0.9888v9.89h-0.9888zM171.48 380.30h0.9888v14.92h-0.9888zM173.45 380.30h0.9888v5.35h-0.9888zM174.44 380.30h0.9888v4.02h-0.9888zM175.43 380.30h0.9888v24.48h-0.9888zM176.42 380.30h0.9888v2.29h-0.9888zM177.41 380.30h0.9888v7.27h-0.9888zM179.39 380.30h0.9888v1.53h-0.9888zM180.38 380.30h0.9888v13.00h-0.9888zM181.36 380.30h0.9888v1.83h-0.9888zM182.35 380.30h0.9888v54.12h-0.9888zM183.34 380.30h0.9888v1.53h-0.9888zM190.26 380.30h0.9888v11.09h-0.9888zM191.25 380.30h0.9888v3.61h-0.9888zM192.24 380.30h0.9888v3.00h-0.9888zM194.22 380.30h0.9888v13.00h-0.9888zM199.16 380.30h0.9888v7.27h-0.9888zM202.13 380.30h0.9888v18.74h-0.9888zM203.12 380.30h0.9888v7.02h-0.9888zM204.11 380.30h0.9888v22.56h-0.9888zM206.08 380.30h0.9888v5.35h-0.9888zM207.07 380.30h0.9888v10.85h-0.9888zM208.06 380.30h0.9888v9.07h-0.9888zM209.05 380.30h0.9888v42.64h-0.9888zM210.04 380.30h0.9888v16.83h-0.9888zM212.02 380.30h0.9888v41.69h-0.9888zM213.00 380.30h0.9888v19.02h-0.9888zM213.99 380.30h0.9888v5.35h-0.9888zM214.98 380.30h0.9888v10.03h-0.9888zM215.97 380.30h0.9888v10.17h-0.9888zM216.96 380.30h0.9888v9.18h-0.9888zM217.95 380.30h0.9888v3.21h-0.9888zM218.94 380.30h0.9888v16.83h-0.9888zM219.93 380.30h0.9888v1.53h-0.9888zM222.89 380.30h0.9888v25.43h-0.9888zM223.88 380.30h0.9888v13.03h-0.9888zM224.87 380.30h0.9888v6.97h-0.9888zM225.86 380.30h0.9888v22.56h-0.9888zM227.84 380.30h0.9888v42.64h-0.9888zM228.82 380.30h0.9888v4.17h-0.9888zM229.81 380.30h0.9888v17.82h-0.9888zM230.80 380.30h0.9888v7.27h-0.9888zM232.78 380.30h0.9888v4.13h-0.9888zM233.77 380.30h0.9888v18.74h-0.9888zM234.76 380.30h0.9888v15.89h-0.9888zM236.73 380.30h0.9888v29.26h-0.9888zM237.72 380.30h0.9888v5.10h-0.9888zM238.71 380.30h0.9888v35.95h-0.9888zM239.70 380.30h0.9888v22.09h-0.9888zM240.69 380.30h0.9888v66.55h-0.9888zM243.66 380.30h0.9888v20.65h-0.9888zM244.64 380.30h0.9888v37.86h-0.9888zM246.62 380.30h0.9888v4.04h-0.9888zM247.61 380.30h0.9888v16.83h-0.9888zM248.60 380.30h0.9888v8.60h-0.9888zM252.55 380.30h0.9888v7.27h-0.9888zM257.50 380.30h0.9888v11.09h-0.9888zM260.46 380.30h0.9888v5.35h-0.9888zM261.45 380.30h0.9888v1.96h-0.9888zM262.44 380.30h0.9888v1.53h-0.9888zM263.43 380.30h0.9888v9.56h-0.9888zM264.42 380.30h0.9888v16.83h-0.9888zM266.40 380.30h0.9888v39.78h-0.9888zM267.38 380.30h0.9888v15.68h-0.9888zM268.37 380.30h0.9888v49.34h-0.9888zM269.36 380.30h0.9888v12.30h-0.9888zM270.35 380.30h0.9888v26.39h-0.9888zM271.34 380.30h0.9888v41.15h-0.9888zM272.33 380.30h0.9888v8.84h-0.9888zM273.32 380.30h0.9888v22.56h-0.9888zM274.31 380.30h0.9888v20.83h-0.9888zM275.30 380.30h0.9888v38.82h-0.9888zM276.28 380.30h0.9888v5.47h-0.9888zM278.26 380.30h0.9888v26.39h-0.9888zM279.25 380.30h0.9888v6.33h-0.9888zM281.23 380.30h0.9888v11.09h-0.9888zM282.22 380.30h0.9888v39.78h-0.9888zM283.21 380.30h0.9888v8.31h-0.9888zM284.19 380.30h0.9888v13.36h-0.9888zM285.18 380.30h0.9888v13.00h-0.9888zM286.17 380.30h0.9888v26.40h-0.9888zM287.16 380.30h0.9888v9.14h-0.9888zM288.15 380.30h0.9888v22.56h-0.9888zM289.14 380.30h0.9888v4.04h-0.9888zM290.13 380.30h0.9888v7.27h-0.9888zM293.09 380.30h0.9888v16.83h-0.9888zM294.08 380.30h0.9888v1.37h-0.9888zM295.07 380.30h0.9888v2.92h-0.9888zM296.06 380.30h0.9888v9.18h-0.9888zM297.05 380.30h0.9888v24.21h-0.9888zM298.04 380.30h0.9888v13.00h-0.9888zM299.02 380.30h0.9888v13.79h-0.9888zM300.01 380.30h0.9888v49.34h-0.9888zM301.00 380.30h0.9888v14.45h-0.9888zM301.99 380.30h0.9888v11.26h-0.9888zM302.98 380.30h0.9888v13.00h-0.9888zM303.97 380.30h0.9888v6.46h-0.9888zM305.95 380.30h0.9888v0.41h-0.9888zM306.94 380.30h0.9888v13.00h-0.9888zM309.90 380.30h0.9888v11.09h-0.9888zM312.87 380.30h0.9888v17.78h-0.9888zM314.85 380.30h0.9888v13.00h-0.9888zM316.82 380.30h0.9888v0.02h-0.9888zM320.78 380.30h0.9888v13.00h-0.9888zM322.75 380.30h0.9888v9.18h-0.9888zM327.70 380.30h0.9888v7.27h-0.9888zM331.65 380.30h0.9888v11.09h-0.9888zM333.63 380.30h0.9888v4.05h-0.9888zM334.62 380.30h0.9888v7.27h-0.9888zM336.60 380.30h0.9888v17.78h-0.9888zM337.59 380.30h0.9888v56.03h-0.9888zM345.50 380.30h0.9888v14.93h-0.9888zM346.49 380.30h0.9888v9.18h-0.9888zM347.47 380.30h0.9888v22.56h-0.9888zM348.46 380.30h0.9888v17.24h-0.9888zM349.45 380.30h0.9888v47.42h-0.9888zM350.44 380.30h0.9888v21.07h-0.9888zM351.43 380.30h0.9888v35.95h-0.9888zM352.42 380.30h0.9888v13.32h-0.9888zM353.41 380.30h0.9888v16.83h-0.9888zM355.38 380.30h0.9888v8.17h-0.9888zM358.35 380.30h0.9888v9.18h-0.9888zM359.34 380.30h0.9888v22.56h-0.9888zM362.31 380.30h0.9888v14.92h-0.9888zM363.29 380.30h0.9888v2.38h-0.9888zM365.27 380.30h0.9888v8.36h-0.9888zM366.26 380.30h0.9888v21.61h-0.9888zM367.25 380.30h0.9888v7.02h-0.9888zM368.24 380.30h0.9888v12.05h-0.9888zM369.23 380.30h0.9888v3.64h-0.9888zM371.20 380.30h0.9888v1.06h-0.9888zM373.18 380.30h0.9888v11.09h-0.9888zM375.16 380.30h0.9888v33.08h-0.9888zM377.14 380.30h0.9888v3.65h-0.9888zM378.12 380.30h0.9888v1.32h-0.9888zM380.10 380.30h0.9888v7.27h-0.9888zM384.06 380.30h0.9888v2.61h-0.9888zM385.05 380.30h0.9888v7.27h-0.9888zM386.04 380.30h0.9888v3.07h-0.9888zM387.02 380.30h0.9888v38.82h-0.9888zM388.01 380.30h0.9888v6.26h-0.9888zM389.99 380.30h0.9888v6.12h-0.9888zM398.89 380.30h0.9888v9.18h-0.9888zM403.83 380.30h0.9888v1.53h-0.9888zM406.80 380.30h0.9888v7.27h-0.9888zM407.79 380.30h0.9888v20.65h-0.9888zM413.72 380.30h0.9888v5.35h-0.9888zM415.70 380.30h0.9888v3.46h-0.9888zM416.69 380.30h0.9888v15.87h-0.9888zM417.68 380.30h0.9888v16.83h-0.9888zM422.62 380.30h0.9888v5.35h-0.9888zM426.57 380.30h0.9888v0.57h-0.9888zM427.56 380.30h0.9888v1.53h-0.9888zM430.53 380.30h0.9888v5.35h-0.9888zM432.51 380.30h0.9888v9.18h-0.9888zM433.50 380.30h0.9888v53.16h-0.9888zM434.48 380.30h0.9888v20.65h-0.9888zM438.44 380.30h0.9888v3.60h-0.9888zM441.41 380.30h0.9888v4.96h-0.9888zM442.39 380.30h0.9888v20.65h-0.9888zM444.37 380.30h0.9888v45.51h-0.9888zM445.36 380.30h0.9888v11.96h-0.9888zM446.35 380.30h0.9888v35.95h-0.9888zM447.34 380.30h0.9888v9.18h-0.9888zM449.31 380.30h0.9888v4.09h-0.9888zM455.25 380.30h0.9888v5.51h-0.9888zM457.23 380.30h0.9888v68.46h-0.9888zM459.20 380.30h0.9888v5.67h-0.9888zM468.10 380.30h0.9888v30.21h-0.9888zM471.07 380.30h0.9888v46.47h-0.9888zM472.06 380.30h0.9888v3.90h-0.9888zM477.00 380.30h0.9888v7.27h-0.9888zM485.90 380.30h0.9888v10.13h-0.9888zM497.76 380.30h0.9888v5.35h-0.9888zM501.72 380.30h0.9888v5.35h-0.9888zM504.69 380.30h0.9888v20.65h-0.9888zM513.58 380.30h0.9888v13.00h-0.9888zM516.55 380.30h0.9888v22.56h-0.9888zM519.52 380.30h0.9888v11.09h-0.9888zM522.48 380.30h0.9888v3.44h-0.9888zM530.39 380.30h0.9888v32.13h-0.9888zM540.28 380.30h0.9888v11.09h-0.9888zM546.21 380.30h0.9888v6.31h-0.9888zM556.10 380.30h0.9888v10.13h-0.9888zM559.07 380.30h0.9888v3.44h-0.9888zM565.99 380.30h0.9888v13.96h-0.9888zM570.93 380.30h0.9888v3.44h-0.9888zM577.85 380.30h0.9888v7.27h-0.9888zM583.79 380.30h0.9888v6.31h-0.9888z"/>
<path fill="#ff2a00" d="M75.57 375.13h0.9888v5.17h-0.9888zM98.31 376.23h0.9888v4.07h-0.9888zM110.17 375.13h0.9888v5.17h-0.9888zM111.16 368.09h0.9888v12.21h-0.9888zM112.15 377.66h0.9888v2.64h-0.9888zM113.14 361.05h0.9888v19.25h-0.9888zM116.11 376.70h0.9888v3.60h-0.9888zM121.05 379.05h0.9888v1.25h-0.9888zM125.01 379.36h0.9888v0.94h-0.9888zM133.90 376.39h0.9888v3.91h-0.9888zM172.47 368.09h0.9888v12.21h-0.9888zM178.40 378.27h0.9888v2.03h-0.9888zM184.33 359.48h0.9888v20.82h-0.9888zM185.32 343.51h0.9888v36.79h-0.9888zM186.31 346.96h0.9888v33.34h-0.9888zM187.30 375.92h0.9888v4.38h-0.9888zM188.29 364.51h0.9888v15.79h-0.9888zM189.27 362.48h0.9888v17.82h-0.9888zM193.23 371.93h0.9888v8.37h-0.9888zM195.21 358.21h0.9888v22.09h-0.9888zM196.20 366.90h0.9888v13.40h-0.9888zM197.18 313.30h0.9888v67.00h-0.9888zM198.17 348.52h0.9888v31.78h-0.9888zM200.15 377.89h0.9888v2.41h-0.9888zM201.14 373.33h0.9888v6.97h-0.9888zM205.09 379.05h0.9888v1.25h-0.9888zM211.03 378.27h0.9888v2.03h-0.9888zM220.91 375.92h0.9888v4.38h-0.9888zM221.90 375.45h0.9888v4.85h-0.9888zM226.85 378.27h0.9888v2.03h-0.9888zM231.79 372.79h0.9888v7.51h-0.9888zM235.75 375.13h0.9888v5.17h-0.9888zM241.68 361.83h0.9888v18.47h-0.9888zM242.67 373.57h0.9888v6.73h-0.9888zM245.63 375.13h0.9888v5.17h-0.9888zM249.59 368.87h0.9888v11.43h-0.9888zM250.58 378.80h0.9888v1.50h-0.9888zM251.56 370.44h0.9888v9.86h-0.9888zM253.54 375.86h0.9888v4.44h-0.9888zM254.53 378.12h0.9888v2.18h-0.9888zM255.52 376.24h0.9888v4.06h-0.9888zM256.51 332.09h0.9888v48.21h-0.9888zM258.49 378.23h0.9888v2.07h-0.9888zM259.48 380.09h0.9888v0.21h-0.9888zM265.41 368.09h0.9888v12.21h-0.9888zM277.27 366.52h0.9888v13.78h-0.9888zM280.24 364.49h0.9888v15.81h-0.9888zM291.12 361.83h0.9888v18.47h-0.9888zM292.10 368.87h0.9888v11.43h-0.9888zM304.96 367.31h0.9888v12.99h-0.9888zM307.92 364.96h0.9888v15.34h-0.9888zM308.91 372.00h0.9888v8.30h-0.9888zM310.89 363.39h0.9888v16.91h-0.9888zM311.88 373.57h0.9888v6.73h-0.9888zM313.86 377.92h0.9888v2.38h-0.9888zM315.83 356.04h0.9888v24.26h-0.9888zM317.81 359.48h0.9888v20.82h-0.9888zM318.80 375.13h0.9888v5.17h-0.9888zM319.79 374.75h0.9888v5.55h-0.9888zM321.77 379.19h0.9888v1.11h-0.9888zM323.74 372.30h0.9888v8.00h-0.9888zM324.73 357.13h0.9888v23.17h-0.9888zM325.72 376.02h0.9888v4.28h-0.9888zM326.71 353.22h0.9888v27.08h-0.9888zM328.69 376.70h0.9888v3.60h-0.9888zM329.68 374.40h0.9888v5.90h-0.9888zM330.67 380.21h0.9888v0.09h-0.9888zM332.64 367.31h0.9888v12.99h-0.9888zM335.61 358.23h0.9888v22.07h-0.9888zM338.57 376.67h0.9888v3.63h-0.9888zM339.56 328.96h0.9888v51.34h-0.9888zM340.55 358.70h0.9888v21.60h-0.9888zM341.54 368.59h0.9888v11.71h-0.9888zM342.53 372.79h0.9888v7.51h-0.9888zM343.52 369.58h0.9888v10.72h-0.9888zM344.51 371.22h0.9888v9.08h-0.9888zM354.40 358.23h0.9888v22.07h-0.9888zM356.37 366.52h0.9888v13.78h-0.9888zM357.36 367.31h0.9888v12.99h-0.9888zM360.33 364.96h0.9888v15.34h-0.9888zM361.32 375.13h0.9888v5.17h-0.9888zM364.28 376.70h0.9888v3.60h-0.9888zM370.22 369.66h0.9888v10.64h-0.9888zM372.19 368.87h0.9888v11.43h-0.9888zM374.17 357.60h0.9888v22.70h-0.9888zM376.15 377.48h0.9888v2.82h-0.9888zM379.11 376.70h0.9888v3.60h-0.9888zM381.09 373.57h0.9888v6.73h-0.9888zM382.08 377.97h0.9888v2.33h-0.9888zM383.07 371.22h0.9888v9.08h-0.9888zM389.00 376.70h0.9888v3.60h-0.9888zM390.98 379.90h0.9888v0.40h-0.9888zM391.97 368.09h0.9888v12.21h-0.9888zM392.96 362.61h0.9888v17.69h-0.9888zM393.94 364.10h0.9888v16.20h-0.9888zM394.93 360.26h0.9888v20.04h-0.9888zM395.92 357.15h0.9888v23.15h-0.9888zM396.91 341.48h0.9888v38.82h-0.9888zM397.90 339.13h0.9888v41.17h-0.9888zM399.88 346.96h0.9888v33.34h-0.9888zM400.87 368.81h0.9888v11.49h-0.9888zM401.86 365.74h0.9888v14.56h-0.9888zM402.84 370.44h0.9888v9.86h-0.9888zM404.82 375.13h0.9888v5.17h-0.9888zM405.81 375.92h0.9888v4.38h-0.9888zM408.78 362.61h0.9888v17.69h-0.9888zM409.76 378.88h0.9888v1.42h-0.9888zM410.75 346.17h0.9888v34.13h-0.9888zM411.74 372.00h0.9888v8.30h-0.9888zM412.73 374.28h0.9888v6.02h-0.9888zM414.71 380.19h0.9888v0.11h-0.9888zM418.66 372.79h0.9888v7.51h-0.9888zM419.65 372.79h0.9888v7.51h-0.9888zM420.64 372.79h0.9888v7.51h-0.9888zM421.63 378.40h0.9888v1.90h-0.9888zM423.61 379.89h0.9888v0.41h-0.9888zM424.60 373.57h0.9888v6.73h-0.9888zM425.59 377.20h0.9888v3.10h-0.9888zM428.55 375.02h0.9888v5.28h-0.9888zM429.54 370.44h0.9888v9.86h-0.9888zM431.52 353.22h0.9888v27.08h-0.9888zM435.47 378.04h0.9888v2.26h-0.9888zM436.46 373.57h0.9888v6.73h-0.9888zM437.45 375.86h0.9888v4.44h-0.9888zM439.43 350.87h0.9888v29.43h-0.9888zM440.42 365.74h0.9888v14.56h-0.9888zM443.38 372.79h0.9888v7.51h-0.9888zM448.33 359.48h0.9888v20.82h-0.9888zM450.30 373.57h0.9888v6.73h-0.9888zM451.29 377.06h0.9888v3.24h-0.9888zM452.28 376.03h0.9888v4.27h-0.9888zM453.27 359.48h0.9888v20.82h-0.9888zM454.26 360.26h0.9888v20.04h-0.9888zM456.24 346.96h0.9888v33.34h-0.9888zM458.21 378.27h0.9888v2.03h-0.9888zM460.19 371.22h0.9888v9.08h-0.9888zM461.18 368.87h0.9888v11.43h-0.9888zM462.17 374.88h0.9888v5.42h-0.9888zM463.16 372.79h0.9888v7.51h-0.9888zM464.15 376.15h0.9888v4.15h-0.9888zM465.13 373.57h0.9888v6.73h-0.9888zM466.12 375.28h0.9888v5.02h-0.9888zM467.11 358.70h0.9888v21.60h-0.9888zM469.09 378.27h0.9888v2.03h-0.9888zM470.08 372.00h0.9888v8.30h-0.9888zM473.05 365.74h0.9888v14.56h-0.9888zM474.03 373.57h0.9888v6.73h-0.9888zM475.02 376.70h0.9888v3.60h-0.9888zM476.01 370.76h0.9888v9.54h-0.9888zM477.99 367.31h0.9888v12.99h-0.9888zM478.98 361.05h0.9888v19.25h-0.9888zM479.97 367.31h0.9888v12.99h-0.9888zM480.96 360.71h0.9888v19.59h-0.9888zM481.94 332.87h0.9888v47.43h-0.9888zM482.93 348.52h0.9888v31.78h-0.9888zM483.92 362.61h0.9888v17.69h-0.9888zM484.91 364.06h0.9888v16.24h-0.9888zM486.89 370.44h0.9888v9.86h-0.9888zM487.88 370.15h0.9888v10.15h-0.9888zM488.87 372.00h0.9888v8.30h-0.9888zM489.85 376.53h0.9888v3.77h-0.9888zM490.84 367.31h0.9888v12.99h-0.9888zM491.83 371.14h0.9888v9.16h-0.9888zM492.82 364.18h0.9888v16.12h-0.9888zM493.81 370.84h0.9888v9.46h-0.9888zM494.80 358.70h0.9888v21.60h-0.9888zM495.79 375.05h0.9888v5.25h-0.9888zM496.78 378.27h0.9888v2.03h-0.9888zM498.75 378.27h0.9888v2.03h-0.9888zM499.74 369.90h0.9888v10.40h-0.9888zM500.73 363.39h0.9888v16.91h-0.9888zM502.71 351.65h0.9888v28.65h-0.9888zM503.70 336.78h0.9888v43.52h-0.9888zM505.67 326.61h0.9888v53.69h-0.9888zM506.66 365.74h0.9888v14.56h-0.9888zM507.65 370.03h0.9888v10.27h-0.9888zM508.64 368.87h0.9888v11.43h-0.9888zM509.63 375.76h0.9888v4.54h-0.9888zM510.62 370.44h0.9888v9.86h-0.9888zM511.61 375.83h0.9888v4.47h-0.9888zM512.60 363.39h0.9888v16.91h-0.9888zM514.57 373.31h0.9888v6.99h-0.9888zM515.56 377.48h0.9888v2.82h-0.9888zM517.54 361.05h0.9888v19.25h-0.9888zM518.53 345.71h0.9888v34.59h-0.9888zM520.50 378.27h0.9888v2.03h-0.9888zM521.49 373.57h0.9888v6.73h-0.9888zM523.47 372.00h0.9888v8.30h-0.9888zM524.46 375.68h0.9888v4.62h-0.9888zM525.45 373.57h0.9888v6.73h-0.9888zM526.44 375.01h0.9888v5.29h-0.9888zM527.43 356.35h0.9888v23.95h-0.9888zM528.41 376.70h0.9888v3.60h-0.9888zM529.40 353.22h0.9888v27.08h-0.9888zM531.38 348.52h0.9888v31.78h-0.9888zM532.37 345.39h0.9888v34.91h-0.9888zM533.36 369.55h0.9888v10.75h-0.9888zM534.35 359.48h0.9888v20.82h-0.9888zM535.34 369.40h0.9888v10.90h-0.9888zM536.33 359.48h0.9888v20.82h-0.9888zM537.31 364.50h0.9888v15.80h-0.9888zM538.30 363.20h0.9888v17.10h-0.9888zM539.29 368.87h0.9888v11.43h-0.9888zM541.27 344.14h0.9888v36.16h-0.9888zM542.26 357.92h0.9888v22.38h-0.9888zM543.25 370.09h0.9888v10.21h-0.9888zM544.24 371.20h0.9888v9.10h-0.9888zM545.22 348.52h0.9888v31.78h-0.9888zM547.20 375.13h0.9888v5.17h-0.9888zM548.19 369.03h0.9888v11.27h-0.9888zM549.18 365.74h0.9888v14.56h-0.9888zM550.17 367.11h0.9888v13.19h-0.9888zM551.16 336.00h0.9888v44.30h-0.9888zM552.14 359.65h0.9888v20.65h-0.9888zM553.13 324.26h0.9888v56.04h-0.9888zM554.12 368.43h0.9888v11.87h-0.9888zM555.11 378.27h0.9888v2.03h-0.9888zM557.09 365.74h0.9888v14.56h-0.9888zM558.08 371.22h0.9888v9.08h-0.9888zM560.06 356.35h0.9888v23.95h-0.9888zM561.04 354.00h0.9888v26.30h-0.9888zM562.03 372.95h0.9888v7.35h-0.9888zM563.02 352.44h0.9888v27.86h-0.9888zM564.01 367.96h0.9888v12.34h-0.9888zM565.00 378.27h0.9888v2.03h-0.9888zM566.98 372.39h0.9888v7.91h-0.9888zM567.97 373.26h0.9888v7.04h-0.9888zM568.95 354.78h0.9888v25.52h-0.9888zM569.94 356.35h0.9888v23.95h-0.9888zM571.92 378.27h0.9888v2.03h-0.9888zM572.91 366.51h0.9888v13.79h-0.9888zM573.90 371.22h0.9888v9.08h-0.9888zM574.89 377.92h0.9888v2.38h-0.9888zM575.88 367.31h0.9888v12.99h-0.9888zM576.86 339.91h0.9888v40.39h-0.9888zM578.84 378.27h0.9888v2.03h-0.9888zM579.83 370.79h0.9888v9.51h-0.9888zM580.82 354.00h0.9888v26.30h-0.9888zM581.81 368.09h0.9888v12.21h-0.9888zM582.80 351.65h0.9888v28.65h-0.9888zM584.77 347.74h0.9888v32.56h-0.9888zM585.76 357.92h0.9888v22.38h-0.9888zM586.75 367.63h0.9888v12.67h-0.9888zM587.74 343.04h0.9888v37.26h-0.9888zM588.73 373.49h0.9888v6.81h-0.9888zM589.72 359.48h0.9888v20.82h-0.9888zM590.71 376.70h0.9888v3.60h-0.9888zM591.69 370.74h0.9888v9.56h-0.9888zM592.68 368.09h0.9888v12.21h-0.9888zM593.67 374.35h0.9888v5.95h-0.9888z"/>
<path fill="#081c6e" d="M71.16 380.30h1.900v37.86h-1.900zM83.02 380.30h1.900v30.21h-1.900zM94.89 380.30h1.900v18.74h-1.900zM106.75 380.30h1.900v17.78h-1.900zM118.62 380.30h1.900v3.44h-1.900zM130.48 380.30h1.900v31.17h-1.900zM142.35 380.30h1.900v27.35h-1.900zM154.21 380.30h1.900v20.65h-1.900zM166.08 380.30h1.900v20.65h-1.900zM189.81 380.30h1.900v11.09h-1.900zM201.67 380.30h1.900v18.74h-1.900zM213.54 380.30h1.900v5.35h-1.900zM225.40 380.30h1.900v22.56h-1.900zM237.27 380.30h1.900v5.10h-1.900zM261.00 380.30h1.900v1.96h-1.900zM272.86 380.30h1.900v22.56h-1.900zM284.73 380.30h1.900v13.00h-1.900zM296.59 380.30h1.900v24.21h-1.900zM320.32 380.30h1.900v13.00h-1.900zM367.78 380.30h1.900v12.05h-1.900zM379.65 380.30h1.900v7.27h-1.900zM403.38 380.30h1.900v1.53h-1.900zM415.24 380.30h1.900v3.46h-1.900zM427.11 380.30h1.900v1.53h-1.900zM522.03 380.30h1.900v3.44h-1.900zM545.76 380.30h1.900v6.31h-1.900z"/>
<path fill="#8a0a0a" d="M177.94 378.27h1.900v2.03h-1.900zM249.13 368.87h1.900v11.43h-1.900zM308.46 372.00h1.900v8.30h-1.900zM332.19 367.31h1.900v12.99h-1.900zM344.05 371.22h1.900v9.08h-1.900zM355.92 366.52h1.900v13.78h-1.900zM391.51 368.09h1.900v12.21h-1.900zM438.97 350.87h1.900v29.43h-1.900zM450.84 377.06h1.900v3.24h-1.900zM462.70 372.79h1.900v7.51h-1.900zM474.57 376.70h1.900v3.60h-1.900zM486.43 370.44h1.900v9.86h-1.900zM498.30 378.27h1.900v2.03h-1.900zM510.16 370.44h1.900v9.86h-1.900zM533.89 359.48h1.900v20.82h-1.900zM557.62 371.22h1.900v9.08h-1.900zM569.49 356.35h1.900v23.95h-1.900zM581.35 368.09h1.900v12.21h-1.900zM593.22 374.35h1.900v5.95h-1.900z"/>
<rect x="61.25" y="304.7" width="537.95" height="184.40000000000003" fill="none" stroke="#4d4d4d" stroke-width="1.1"/>
<line x1="55.2" y1="312.30" x2="61.25" y2="312.30" stroke="#4d4d4d" stroke-width="1.1"/>
<text transform="translate(46.9,317.20) scale(1.085,1)" text-anchor="end" font-size="14" fill="#1a1a1a">4</text>
<line x1="55.2" y1="346.30" x2="61.25" y2="346.30" stroke="#4d4d4d" stroke-width="1.1"/>
<text transform="translate(46.9,351.20) scale(1.085,1)" text-anchor="end" font-size="14" fill="#1a1a1a">2</text>
<line x1="55.2" y1="380.30" x2="61.25" y2="380.30" stroke="#4d4d4d" stroke-width="1.1"/>
<text transform="translate(46.9,385.20) scale(1.085,1)" text-anchor="end" font-size="14" fill="#1a1a1a">0</text>
<line x1="55.2" y1="414.30" x2="61.25" y2="414.30" stroke="#4d4d4d" stroke-width="1.1"/>
<text transform="translate(46.9,419.20) scale(1.085,1)" text-anchor="end" font-size="14" fill="#1a1a1a">-2</text>
<line x1="55.2" y1="448.30" x2="61.25" y2="448.30" stroke="#4d4d4d" stroke-width="1.1"/>
<text transform="translate(46.9,453.20) scale(1.085,1)" text-anchor="end" font-size="14" fill="#1a1a1a">-4</text>
<line x1="55.2" y1="482.30" x2="61.25" y2="482.30" stroke="#4d4d4d" stroke-width="1.1"/>
<text transform="translate(46.9,487.20) scale(1.085,1)" text-anchor="end" font-size="14" fill="#1a1a1a">-6</text>
<line x1="66.04" y1="489.1" x2="66.04" y2="492.1" stroke="#4d4d4d" stroke-width="1.1"/>
<line x1="77.90" y1="489.1" x2="77.90" y2="494.1" stroke="#4d4d4d" stroke-width="1.1"/>
<text transform="translate(78.30,512.2) scale(1.085,1)" text-anchor="middle" font-size="14" fill="#1a1a1a">1980</text>
<line x1="89.77" y1="489.1" x2="89.77" y2="492.1" stroke="#4d4d4d" stroke-width="1.1"/>
<line x1="101.63" y1="489.1" x2="101.63" y2="492.1" stroke="#4d4d4d" stroke-width="1.1"/>
<line x1="113.50" y1="489.1" x2="113.50" y2="492.1" stroke="#4d4d4d" stroke-width="1.1"/>
<line x1="125.36" y1="489.1" x2="125.36" y2="492.1" stroke="#4d4d4d" stroke-width="1.1"/>
<line x1="137.23" y1="489.1" x2="137.23" y2="494.1" stroke="#4d4d4d" stroke-width="1.1"/>
<text transform="translate(137.63,512.2) scale(1.085,1)" text-anchor="middle" font-size="14" fill="#1a1a1a">1985</text>
<line x1="149.09" y1="489.1" x2="149.09" y2="492.1" stroke="#4d4d4d" stroke-width="1.1"/>
<line x1="160.96" y1="489.1" x2="160.96" y2="492.1" stroke="#4d4d4d" stroke-width="1.1"/>
<line x1="172.82" y1="489.1" x2="172.82" y2="492.1" stroke="#4d4d4d" stroke-width="1.1"/>
<line x1="184.69" y1="489.1" x2="184.69" y2="492.1" stroke="#4d4d4d" stroke-width="1.1"/>
<line x1="196.55" y1="489.1" x2="196.55" y2="494.1" stroke="#4d4d4d" stroke-width="1.1"/>
<text transform="translate(196.95,512.2) scale(1.085,1)" text-anchor="middle" font-size="14" fill="#1a1a1a">1990</text>
<line x1="208.42" y1="489.1" x2="208.42" y2="492.1" stroke="#4d4d4d" stroke-width="1.1"/>
<line x1="220.28" y1="489.1" x2="220.28" y2="492.1" stroke="#4d4d4d" stroke-width="1.1"/>
<line x1="232.15" y1="489.1" x2="232.15" y2="492.1" stroke="#4d4d4d" stroke-width="1.1"/>
<line x1="244.01" y1="489.1" x2="244.01" y2="492.1" stroke="#4d4d4d" stroke-width="1.1"/>
<line x1="255.88" y1="489.1" x2="255.88" y2="494.1" stroke="#4d4d4d" stroke-width="1.1"/>
<text transform="translate(256.27,512.2) scale(1.085,1)" text-anchor="middle" font-size="14" fill="#1a1a1a">1995</text>
<line x1="267.74" y1="489.1" x2="267.74" y2="492.1" stroke="#4d4d4d" stroke-width="1.1"/>
<line x1="279.61" y1="489.1" x2="279.61" y2="492.1" stroke="#4d4d4d" stroke-width="1.1"/>
<line x1="291.47" y1="489.1" x2="291.47" y2="492.1" stroke="#4d4d4d" stroke-width="1.1"/>
<line x1="303.34" y1="489.1" x2="303.34" y2="492.1" stroke="#4d4d4d" stroke-width="1.1"/>
<line x1="315.20" y1="489.1" x2="315.20" y2="494.1" stroke="#4d4d4d" stroke-width="1.1"/>
<text transform="translate(315.60,512.2) scale(1.085,1)" text-anchor="middle" font-size="14" fill="#1a1a1a">2000</text>
<line x1="327.06" y1="489.1" x2="327.06" y2="492.1" stroke="#4d4d4d" stroke-width="1.1"/>
<line x1="338.93" y1="489.1" x2="338.93" y2="492.1" stroke="#4d4d4d" stroke-width="1.1"/>
<line x1="350.79" y1="489.1" x2="350.79" y2="492.1" stroke="#4d4d4d" stroke-width="1.1"/>
<line x1="362.66" y1="489.1" x2="362.66" y2="492.1" stroke="#4d4d4d" stroke-width="1.1"/>
<line x1="374.52" y1="489.1" x2="374.52" y2="494.1" stroke="#4d4d4d" stroke-width="1.1"/>
<text transform="translate(374.92,512.2) scale(1.085,1)" text-anchor="middle" font-size="14" fill="#1a1a1a">2005</text>
<line x1="386.39" y1="489.1" x2="386.39" y2="492.1" stroke="#4d4d4d" stroke-width="1.1"/>
<line x1="398.25" y1="489.1" x2="398.25" y2="492.1" stroke="#4d4d4d" stroke-width="1.1"/>
<line x1="410.12" y1="489.1" x2="410.12" y2="492.1" stroke="#4d4d4d" stroke-width="1.1"/>
<line x1="421.99" y1="489.1" x2="421.99" y2="492.1" stroke="#4d4d4d" stroke-width="1.1"/>
<line x1="433.85" y1="489.1" x2="433.85" y2="494.1" stroke="#4d4d4d" stroke-width="1.1"/>
<text transform="translate(434.25,512.2) scale(1.085,1)" text-anchor="middle" font-size="14" fill="#1a1a1a">2010</text>
<line x1="445.72" y1="489.1" x2="445.72" y2="492.1" stroke="#4d4d4d" stroke-width="1.1"/>
<line x1="457.58" y1="489.1" x2="457.58" y2="492.1" stroke="#4d4d4d" stroke-width="1.1"/>
<line x1="469.45" y1="489.1" x2="469.45" y2="492.1" stroke="#4d4d4d" stroke-width="1.1"/>
<line x1="481.31" y1="489.1" x2="481.31" y2="492.1" stroke="#4d4d4d" stroke-width="1.1"/>
<line x1="493.18" y1="489.1" x2="493.18" y2="494.1" stroke="#4d4d4d" stroke-width="1.1"/>
<text transform="translate(493.58,512.2) scale(1.085,1)" text-anchor="middle" font-size="14" fill="#1a1a1a">2015</text>
<line x1="505.04" y1="489.1" x2="505.04" y2="492.1" stroke="#4d4d4d" stroke-width="1.1"/>
<line x1="516.90" y1="489.1" x2="516.90" y2="492.1" stroke="#4d4d4d" stroke-width="1.1"/>
<line x1="528.77" y1="489.1" x2="528.77" y2="492.1" stroke="#4d4d4d" stroke-width="1.1"/>
<line x1="540.63" y1="489.1" x2="540.63" y2="492.1" stroke="#4d4d4d" stroke-width="1.1"/>
<line x1="552.50" y1="489.1" x2="552.50" y2="494.1" stroke="#4d4d4d" stroke-width="1.1"/>
<text transform="translate(552.90,512.2) scale(1.085,1)" text-anchor="middle" font-size="14" fill="#1a1a1a">2020</text>
<line x1="564.37" y1="489.1" x2="564.37" y2="492.1" stroke="#4d4d4d" stroke-width="1.1"/>
<line x1="576.23" y1="489.1" x2="576.23" y2="492.1" stroke="#4d4d4d" stroke-width="1.1"/>
<line x1="588.10" y1="489.1" x2="588.10" y2="492.1" stroke="#4d4d4d" stroke-width="1.1"/>
<text x="330.2" y="293.8" text-anchor="middle" font-size="18.85" fill="#111">Monthly European surface air temperature anomalies</text>
<text x="15.6" y="395.9" font-size="14" fill="#1a1a1a">°</text><text transform="translate(26.2,395.9) scale(0.87,1)" font-size="14" fill="#1a1a1a">C</text>
<text x="162.5" y="529.4" font-size="11.3" fill="#1a1a1a" style="white-space:pre" xml:space="preserve">(Data: ERA5.  Reference period: 1991-2020.  Credit: C3S/ECMWF)</text>
<text transform="translate(604.0,405) rotate(90) scale(0.785,1)" font-size="9.4" fill="#1a1a1a" stroke="#1a1a1a" stroke-width="0.2">Date created: 2023-08-03</text>

<rect x="126.1" y="542.7" width="32.5" height="21.6" fill="#1f4f9e"/>
<g fill="#d8d98a">
<circle cx="149.40" cy="553.30" r="0.95"/>
<circle cx="148.42" cy="556.95" r="0.95"/>
<circle cx="145.75" cy="559.62" r="0.95"/>
<circle cx="142.10" cy="560.60" r="0.95"/>
<circle cx="138.45" cy="559.62" r="0.95"/>
<circle cx="135.78" cy="556.95" r="0.95"/>
<circle cx="134.80" cy="553.30" r="0.95"/>
<circle cx="135.78" cy="549.65" r="0.95"/>
<circle cx="138.45" cy="546.98" r="0.95"/>
<circle cx="142.10" cy="546.00" r="0.95"/>
<circle cx="145.75" cy="546.98" r="0.95"/>
<circle cx="148.42" cy="549.65" r="0.95"/>
</g>
<text x="168.6" y="552.2" font-size="7.3" font-weight="bold" fill="#7a7a7a" textLength="57.8" lengthAdjust="spacingAndGlyphs">PROGRAMME OF</text>
<text x="168.6" y="560" font-size="7.3" font-weight="bold" fill="#7a7a7a" textLength="77.8" lengthAdjust="spacingAndGlyphs">THE EUROPEAN UNION</text>
<path d="M 275.2 545.3 A 10.4 10.4 0 1 0 271.2 563.35" fill="none" stroke="#8aa8c8" stroke-width="1.0"/>
<path d="M 267.2 543.9 A 9.5 9.5 0 0 0 268.2 562.7" fill="none" stroke="#3f7cba" stroke-width="1.9"/>
<text x="267.8" y="559.4" font-size="11.6" fill="#2b3d5a" textLength="51.8" lengthAdjust="spacingAndGlyphs">opernicus</text>
<text x="284" y="564.2" font-size="3.6" fill="#4a7fc0" textLength="36" lengthAdjust="spacingAndGlyphs">Europe's eyes on Earth</text>
<text x="351.6" y="545.8" font-size="3.6" fill="#5a6f90" textLength="31.7" lengthAdjust="spacingAndGlyphs">IMPLEMENTED BY</text>
<g>
<circle cx="359.4" cy="556.4" r="7.6" fill="#1d66ad"/>
<circle cx="364.3" cy="556.4" r="7.6" fill="#1d66ad"/>
<circle cx="358.6" cy="556.4" r="3.3" fill="#fff"/>
<circle cx="365.4" cy="556.4" r="3.3" fill="#fff"/>
<rect x="365.4" y="554.6" width="7" height="3.6" fill="#fff"/>
<rect x="351" y="555.6" width="7" height="0.6" fill="#cfe0f0"/>
<rect x="351" y="557.0" width="7" height="0.6" fill="#cfe0f0"/>
</g>
<text x="374.3" y="562.3" font-size="16.9" font-weight="bold" fill="#1d66ad" textLength="65.2" lengthAdjust="spacingAndGlyphs">ECMWF</text>
<path d="M 475.9 546.9 A 11 11 0 1 0 469.4 564.8" fill="none" stroke="#7a1d40" stroke-width="1.5"/>
<path d="M 460.3 553.7 L 463 550 L 466.6 548 L 468.5 549.3 L 471 547.6 L 473.5 549.5 L 475.9 553.7" fill="none" stroke="#9a7f88" stroke-width="0.6"/>
<rect x="469" y="550.7" width="2.2" height="6.5" rx="1" fill="#b0607a"/>
<circle cx="470.1" cy="557.6" r="1.4" fill="#a04868"/>
<text x="479" y="551.9" font-size="6.6" font-weight="bold" fill="#8a2c4e" textLength="22" lengthAdjust="spacingAndGlyphs">Climate</text>
<text x="479" y="559.7" font-size="6.6" font-weight="bold" fill="#8a2c4e" textLength="46.5" lengthAdjust="spacingAndGlyphs">Change Service</text>

</svg>
</body></html>
